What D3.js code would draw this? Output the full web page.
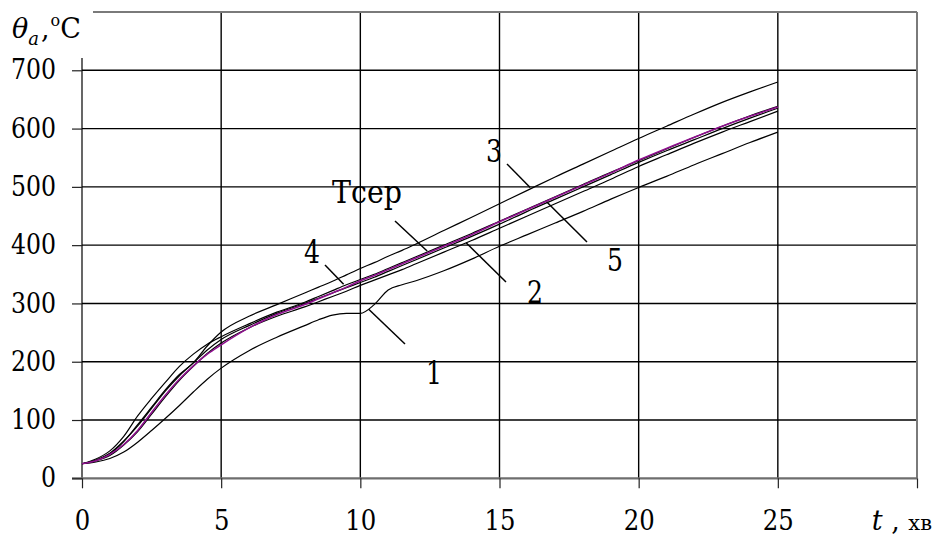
<!DOCTYPE html>
<html>
<head>
<meta charset="utf-8">
<script src="https://cdn.jsdelivr.net/npm/d3@7/dist/d3.min.js"></script>
<style>
    body { margin: 0; background: #fff; }
    svg text { font-family: 'DejaVu Serif', serif; }
    .grid line { stroke: #000; stroke-width: 1.4; }
    .line { fill: none; stroke: #000; stroke-width: 1.2; }
    .line-avg { fill: none; stroke: #8e108e; stroke-width: 1.6; }
    .leader { stroke: #000; stroke-width: 1.5; }
</style>
</head>
<body>
<div id="chart"></div>
<script>
// time, min
const times = [0, 0.5, 1, 1.5, 2, 2.5, 3, 3.5, 4, 4.5, 5, 6, 7, 8, 8.5, 9, 9.5, 10, 10.5, 11, 11.5, 12,
    13, 14, 15, 16, 17, 18, 19, 20, 21, 22, 23, 24, 25];

// temperature, °C
const curve1 = [25, 28, 34, 45, 62, 82, 103, 125, 148, 170, 189, 219, 242, 262, 272, 280, 283, 283, 298, 323, 332, 339,
    356, 376, 398, 418, 438, 458, 479, 499, 518, 538, 557, 576, 594];
const curve2 = [25, 30, 39, 57, 80, 110, 140, 168, 192, 214, 232, 258, 278, 294, 303, 312, 321, 331, 340, 349, 358, 368,
    388, 408, 429, 450, 471, 492, 513, 535, 555, 575, 594, 612, 630];
const curve3 = [25, 31, 42, 63, 92, 122, 152, 178, 198, 227, 251, 278, 298, 318, 328, 338, 349, 360, 370, 381, 391, 402,
    425, 448, 471, 494, 517, 539, 561, 583, 604, 625, 645, 663, 680];
const curve4 = [25, 33, 47, 72, 107, 137, 165, 192, 213, 230, 243, 265, 285, 302, 312, 322, 332, 341, 350, 360, 370, 380,
    400, 420, 441, 462, 483, 504, 525, 545, 565, 585, 604, 622, 638];
const curve5 = [25, 31, 43, 64, 90, 120, 150, 176, 198, 220, 238, 262, 283, 300, 309, 318, 327, 336, 345, 355, 365, 375,
    395, 415, 436, 458, 479, 500, 521, 542, 562, 581, 600, 618, 635];
const curveAvg = [25, 30, 41, 58, 82, 113, 143, 170, 193, 213, 229, 258, 281, 298, 308, 318, 328, 339, 348, 358, 368, 378,
    398, 418, 440, 461, 482, 503, 524, 546, 566, 585, 604, 621, 637];

const xTicks = [0, 5, 10, 15, 20, 25, 30];
const xTickLabels = ['0', '5', '10', '15', '20', '25', ''];
const yTicks = [0, 100, 200, 300, 400, 500, 600, 700];

// curve labels with the point on the curve where the leader ends
const curveLabels = [
    { text: '1', at: [10.3, 290] },
    { text: '2', at: [13.8, 404] },
    { text: '3', at: [16.1, 499] },
    { text: '4', at: [9.4, 333] },
    { text: '5', at: [16.7, 474] },
    { text: 'Тсер', at: [12.4, 390] }
];

const W = 936, H = 538;
const margin = { top: 12, right: 19, bottom: 60, left: 82 };

const svg = d3.select('#chart').append('svg')
    .attr('width', W)
    .attr('height', H)
    .style('display', 'block');

const x = d3.scaleLinear().domain([0, 30]).range([margin.left, W - margin.right]);
const y = d3.scaleLinear().domain([0, 800]).range([478.3, margin.top]);

// the serif font is wider than the original one, squeeze digits a bit
function squeeze(sel, perChar) {
    sel.each(function () {
        let t = d3.select(this);
        let n = t.text().length;
        if (n > 0) {
            t.attr('textLength', n * perChar).attr('lengthAdjust', 'spacingAndGlyphs');
        }
    });
}

// grid
const grid = svg.append('g').attr('class', 'grid');
grid.selectAll('.h')
    .data(yTicks.slice(1))
    .enter().append('line')
    .attr('x1', x(0)).attr('x2', x(30))
    .attr('y1', d => y(d)).attr('y2', d => y(d));
grid.selectAll('.v')
    .data(xTicks.slice(1, -1))
    .enter().append('line')
    .attr('x1', d => x(d)).attr('x2', d => x(d))
    .attr('y1', y(800)).attr('y2', y(0));

// frame (top / right grey, left black)
svg.append('line')
    .attr('x1', 93).attr('x2', x(30))
    .attr('y1', y(800)).attr('y2', y(800))
    .attr('stroke', '#7a7a7a').attr('stroke-width', 2);
svg.append('line')
    .attr('x1', x(30)).attr('x2', x(30))
    .attr('y1', y(800)).attr('y2', y(0))
    .attr('stroke', '#7a7a7a').attr('stroke-width', 2);
svg.append('line')
    .attr('x1', x(0)).attr('x2', x(0))
    .attr('y1', 58).attr('y2', y(0))
    .attr('stroke', '#000').attr('stroke-width', 1.2);

// axes
const xAxis = d3.axisBottom(x)
    .tickValues(xTicks)
    .tickFormat((d, i) => xTickLabels[i])
    .tickSize(10)
    .tickPadding(22);

const gx = svg.append('g')
    .attr('transform', `translate(0,${y(0)})`)
    .call(xAxis)
    .attr('font-family', null);
gx.select('.domain')
    .attr('d', `M${x(0) - 10},0H${x(30)}`)
    .attr('stroke', '#6e6e6e').attr('stroke-width', 2.2);
gx.selectAll('.tick line').attr('stroke', '#222').attr('stroke-width', 1.2);
gx.selectAll('.tick text')
    .attr('font-size', 28)
    .attr('fill', '#000')
    .call(squeeze, 15.5);

const yAxis = d3.axisLeft(y)
    .tickValues(yTicks)
    .tickSize(10)
    .tickPadding(16);

const gy = svg.append('g')
    .attr('transform', `translate(${x(0)},0)`)
    .call(yAxis)
    .attr('font-family', null);
gy.select('.domain').remove();
gy.selectAll('.tick line').attr('stroke', '#222').attr('stroke-width', 1.2);
gy.selectAll('.tick text')
    .attr('font-size', 27)
    .attr('fill', '#000')
    .call(squeeze, 15);

// curves
const line = d3.line()
    .x(d => x(d[0]))
    .y(d => y(d[1]))
    .curve(d3.curveMonotoneX);

const series = [curve1, curve2, curve3, curve4, curve5];
svg.selectAll('.line')
    .data(series)
    .enter().append('path')
    .attr('class', 'line')
    .attr('d', s => line(times.map((t, i) => [t, s[i]])));

svg.append('path')
    .attr('class', 'line-avg')
    .attr('d', line(times.map((t, i) => [t, curveAvg[i]])));

// leader lines and labels
const labelPos = {
    '1': { tx: 434, ty: 384, lx: 405, ly: 344 },
    '2': { tx: 535, ty: 303, lx: 506, ly: 282 },
    '3': { tx: 494, ty: 162, lx: 507, ly: 164 },
    '4': { tx: 312, ty: 263, lx: 325, ly: 265 },
    '5': { tx: 615, ty: 271, lx: 587, ly: 242 },
    'Тсер': { tx: 367, ty: 203, lx: 395, ly: 221 }
};

curveLabels.forEach(c => {
    let p = labelPos[c.text];
    svg.append('line')
        .attr('class', 'leader')
        .attr('x1', x(c.at[0])).attr('y1', y(c.at[1]))
        .attr('x2', p.lx).attr('y2', p.ly);
    svg.append('text')
        .attr('x', p.tx).attr('y', p.ty)
        .attr('text-anchor', 'middle')
        .attr('font-size', 31)
        .text(c.text)
        .call(squeeze, c.text.length > 1 ? 17.5 : 16);
});

// axis titles
const yTitle = svg.append('text')
    .attr('x', 12).attr('y', 38)
    .attr('font-size', 27);
yTitle.append('tspan').attr('font-style', 'italic').text('θ');
yTitle.append('tspan').attr('font-style', 'italic').attr('font-size', 18).attr('dy', 7).text('a');
yTitle.append('tspan').attr('dy', -7).attr('dx', 2).text(',');
yTitle.append('tspan').attr('font-size', 16).attr('dy', -12).attr('dx', 1).text('o');
yTitle.append('tspan').attr('dy', 12).text('C');

const xTitle = svg.append('text')
    .attr('x', 932).attr('y', 530)
    .attr('text-anchor', 'end')
    .attr('font-size', 27);
xTitle.append('tspan').attr('font-style', 'italic').text('t');
xTitle.append('tspan').text(' , ');
xTitle.append('tspan').attr('font-size', 21).text('хв');
</script>
</body>
</html>
